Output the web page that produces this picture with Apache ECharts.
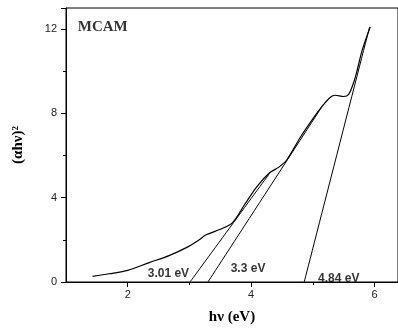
<!DOCTYPE html>
<html>
<head>
<meta charset="utf-8">
<script src="https://cdn.jsdelivr.net/npm/echarts@6/dist/echarts.min.js"></script>
<style>
  html, body { margin: 0; padding: 0; background: #fff; }
  #taucChart { width: 398px; height: 330px; }
</style>
</head>
<body>
<div id="taucChart"></div>
<script>
(function() {
  // Tauc plot, MCAM
  const chart = echarts.init(document.getElementById('taucChart'));

  const xTicks = [2, 4, 6];
  const xMinorTicks = [3, 5];
  const curve = [
    [1.43, 0.27], [1.7, 0.39], [2.0, 0.55], [2.35, 0.92], [2.67, 1.25],
    [2.99, 1.69], [3.16, 2.0], [3.27, 2.24], [3.5, 2.5], [3.7, 2.82],
    [3.9, 3.7], [4.1, 4.55], [4.3, 5.18], [4.45, 5.45], [4.58, 5.8],
    [4.8, 6.88], [4.98, 7.66], [5.15, 8.33], [5.28, 8.75], [5.36, 8.86],
    [5.5, 8.8], [5.58, 8.9], [5.66, 9.45], [5.71, 9.95], [5.8, 11.0],
    [5.93, 12.1]
  ];
  const fit301 = [[3.01, 0], [4.3, 5.16]];
  const fit33 = [[3.3, 0], [5.15, 8.33]];
  const fit484 = [[4.86, 0], [5.92, 12.1]];
  const gapLabels = [
    [2.66, 0.39, '3.01 eV'],
    [3.95, 0.62, '3.3 eV'],
    [5.42, 0.15, '4.84 eV']
  ];

  const lineSeries = function(data, width) {
    return {
      type: 'line',
      data: data,
      smooth: 0.3,
      symbol: 'none',
      silent: true,
      lineStyle: { color: '#000', width: width }
    };
  };

  const option = {
    animation: false,
    grid: {
      left: 66, right: -2, top: 8, bottom: 45,
      show: true, borderColor: '#000', borderWidth: 1
    },
    xAxis: [
      {
        type: 'value',
        min: 1,
        max: 6.38,
        name: 'hν (eV)',
        nameLocation: 'middle',
        nameGap: 28,
        nameTextStyle: {
          fontFamily: 'Liberation Serif', fontWeight: 'bold',
          fontSize: 15, color: '#000'
        },
        splitLine: { show: false },
        axisLine: { lineStyle: { color: '#000' } },
        axisTick: { customValues: xTicks, length: 5, lineStyle: { color: '#000' } },
        axisLabel: {
          customValues: xTicks, margin: 7,
          fontFamily: 'Liberation Sans', fontSize: 11, color: '#222'
        }
      },
      {
        type: 'value',
        min: 1,
        max: 6.38,
        position: 'bottom',
        splitLine: { show: false },
        axisLine: { show: false },
        axisTick: { customValues: xMinorTicks, length: 3, lineStyle: { color: '#000' } },
        axisLabel: { show: false }
      }
    ],
    yAxis: {
      type: 'value',
      min: 0,
      max: 13,
      interval: 4,
      name: '(αhν)²',
      nameLocation: 'middle',
      nameGap: 40,
      nameTextStyle: {
        fontFamily: 'Liberation Serif', fontWeight: 'bold',
        fontSize: 15, color: '#000'
      },
      splitLine: { show: false },
      axisLine: { show: true, lineStyle: { color: '#000' } },
      axisTick: { show: true, length: 5, lineStyle: { color: '#000' } },
      minorTick: { show: true, splitNumber: 2, length: 3, lineStyle: { color: '#000' } },
      minorSplitLine: { show: false },
      axisLabel: {
        margin: 9,
        fontFamily: 'Liberation Sans', fontSize: 11, color: '#222',
        formatter: function(v) { return v > 12 ? '' : v; }
      }
    },
    series: [
      lineSeries(curve, 1.2),
      lineSeries(fit301, 1),
      lineSeries(fit33, 1),
      lineSeries(fit484, 1),
      {
        type: 'scatter',
        data: gapLabels,
        symbolSize: 0,
        silent: true,
        label: {
          show: true,
          position: 'inside',
          formatter: function(p) { return p.value[2]; },
          fontFamily: 'Liberation Sans', fontWeight: 'bold',
          fontSize: 12, color: '#000'
        }
      },
      {
        type: 'scatter',
        data: [[1.19, 12.1, 'MCAM']],
        symbolSize: 0,
        silent: true,
        label: {
          show: true,
          position: 'right',
          distance: 0,
          formatter: function(p) { return p.value[2]; },
          fontFamily: 'Liberation Serif', fontWeight: 'bold',
          fontSize: 15, color: '#000'
        }
      }
    ]
  };
  chart.setOption(option);
}());
</script>
</body>
</html>
